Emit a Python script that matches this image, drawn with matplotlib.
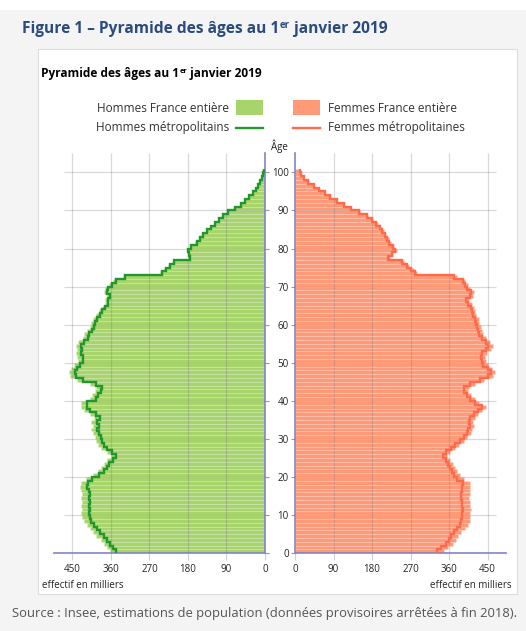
import numpy as np
import matplotlib
matplotlib.use("Agg")
import matplotlib.pyplot as plt
from matplotlib.patches import Rectangle
from matplotlib.lines import Line2D

plt.rcParams["font.family"] = ["Open Sans", "DejaVu Sans"]

# ---- données (effectifs en milliers, âges 0 à 100) ----
ages = np.arange(0, 101)

hommes_france = [
    363, 370, 377, 384, 394, 401, 410, 417, 424, 427,
    429, 427, 430, 428, 429, 428, 429, 432, 430, 419,
    402, 390, 383, 377, 368, 360, 370, 383, 390, 395,
    398, 401, 406, 403, 407, 400, 410, 424, 431, 430,
    409, 404, 397, 394, 409, 440, 456, 458, 454, 446,
    438, 439, 442, 440, 442, 436, 425, 422, 416, 410,
    407, 402, 395, 389, 382, 375, 374, 369, 377, 373,
    364, 354, 332, 246, 237, 227, 216, 180, 181, 183,
    175, 163, 155, 147, 138, 128, 119, 109, 99, 88,
    71, 58, 47, 38, 29, 22, 16, 11, 7, 5,
    2,
]
hommes_metro = [
    347, 354, 361, 368, 377, 385, 393, 400, 406, 409,
    411, 409, 412, 410, 411, 410, 412, 415, 414, 404,
    388, 377, 370, 364, 355, 347, 357, 370, 377, 382,
    384, 387, 392, 389, 393, 386, 396, 410, 417, 416,
    395, 390, 383, 380, 395, 425, 441, 443, 440, 432,
    425, 426, 429, 428, 430, 424, 414, 411, 405, 400,
    397, 392, 386, 380, 374, 367, 366, 362, 370, 366,
    358, 348, 326, 241, 232, 222, 212, 176, 177, 179,
    172, 160, 152, 144, 135, 126, 117, 107, 97, 86,
    70, 57, 46, 37, 28, 21, 16, 11, 7, 4.5,
    2,
]
femmes_france = [
    347, 358, 369, 377, 382, 389, 397, 404, 408, 409,
    410, 412, 410, 409, 407, 408, 408, 408, 409, 394,
    386, 378, 373, 368, 361, 355, 362, 373, 384, 394,
    403, 411, 414, 418, 416, 420, 428, 438, 446, 430,
    420, 411, 405, 406, 420, 442, 462, 468, 460, 450,
    446, 444, 448, 457, 462, 456, 446, 439, 437, 434,
    431, 429, 424, 421, 419, 413, 407, 415, 419, 410,
    404, 398, 378, 285, 277, 267, 255, 222, 230, 238,
    232, 224, 219, 213, 207, 201, 193, 183, 171, 152,
    132, 116, 99, 83, 71, 57, 45, 32, 22, 15,
    12,
]
femmes_metro = [
    331, 342, 352, 360, 365, 372, 379, 386, 389, 390,
    391, 393, 391, 390, 388, 389, 390, 390, 392, 378,
    372, 366, 362, 358, 352, 346, 353, 364, 375, 385,
    394, 402, 404, 408, 406, 410, 418, 428, 436, 420,
    410, 401, 395, 396, 410, 432, 452, 458, 450, 440,
    436, 434, 438, 447, 452, 446, 436, 430, 428, 425,
    422, 420, 416, 413, 411, 405, 400, 408, 412, 403,
    398, 392, 372, 280, 272, 262, 250, 218, 226, 234,
    228, 220, 216, 210, 204, 198, 190, 180, 168, 150,
    130, 114, 97, 82, 70, 56, 44, 31, 21, 15,
    12,
]

graduations_x = [0, 90, 180, 270, 360, 450]
graduations_age = list(range(0, 101, 10))

# ---- couleurs ----
VERT_BARRE = "#a8d46c"
VERT_LIGNE = "#22962f"
ROSE_BARRE = "#ff9a78"
ROSE_LIGNE = "#ff6a4c"
VIOLET = "#8383c9"
BLEU_TITRE = "#2b4b7f"

W, H = 526, 631
fig = plt.figure(figsize=(W / 100, H / 100), dpi=100)
fig.patch.set_facecolor("#f4f4f4")


def fx(px):
    return px / W


def fy(py):
    # py compté depuis le haut de l'image
    return 1 - py / H


# bandeau blanc en haut + cadre blanc du graphique
fig.add_artist(Rectangle((0, fy(10)), 1, 10 / H, transform=fig.transFigure,
                         facecolor="white", edgecolor="none", zorder=0))
fig.add_artist(Rectangle((fx(38), fy(594)), (517 - 38) / W, (594 - 49) / H,
                         transform=fig.transFigure, facecolor="white",
                         edgecolor="#dddddd", lw=0.8, zorder=0))

ax_h = fig.add_axes([fx(54), fy(553.3), (265 - 54) / W, 400 / H])
ax_f = fig.add_axes([fx(295), fy(553.3), (506 - 295) / W, 400 / H])

for ax, france, metro, c_barre, c_ligne in [
    (ax_h, hommes_france, hommes_metro, VERT_BARRE, VERT_LIGNE),
    (ax_f, femmes_france, femmes_metro, ROSE_BARRE, ROSE_LIGNE),
]:
    ax.set_facecolor("none")
    ax.barh(ages, france, height=1, align="edge", color=c_barre,
            edgecolor=(1, 1, 1, 0.22), linewidth=0.4, zorder=2)
    ax.stairs(metro, np.arange(0, 102), orientation="horizontal", baseline=None,
              color=c_ligne, lw=1.7, zorder=4)
    # quadrillage
    ax.vlines(graduations_x[1:], 0, 105, color="#777777", alpha=0.28, lw=0.9, zorder=3)
    ax.hlines(graduations_age[1:], 0, 470, color="#777777", alpha=0.28, lw=0.9, zorder=3)
    ax.set_ylim(0, 105)
    ax.set_xticks(graduations_x)
    ax.set_xticklabels([str(v) for v in graduations_x])
    ax.tick_params(axis="x", length=5, color="#d0d0d0", labelsize=7, pad=3,
                   labelcolor="#222222")
    ax.set_yticks(graduations_age)
    ax.spines["top"].set_visible(False)
    ax.spines["bottom"].set_color(VIOLET)
    ax.spines["bottom"].set_linewidth(1.2)

ax_h.set_xlim(493, 0)
ax_f.set_xlim(0, 493)

ax_h.spines["left"].set_visible(False)
ax_h.spines["right"].set_color(VIOLET)
ax_h.spines["right"].set_linewidth(1.2)
ax_h.yaxis.tick_right()
ax_h.tick_params(axis="y", length=3, color="#999999", labelright=False)

ax_f.spines["right"].set_visible(False)
ax_f.spines["left"].set_color(VIOLET)
ax_f.spines["left"].set_linewidth(1.2)
ax_f.tick_params(axis="y", length=3, color="#999999", labelsize=7, pad=1.5,
                 labelcolor="#222222")

fig.text(fx(288), fy(146), "Âge", ha="right", va="center", fontsize=7, color="#222222")
fig.text(fx(42), fy(585), "effectif en milliers", ha="left", va="center",
         fontsize=7, color="#222222")
fig.text(fx(512), fy(585), "effectif en milliers", ha="right", va="center",
         fontsize=7, color="#222222")

# ---- légende ----
fig.text(fx(229), fy(108), "Hommes France entière", ha="right", va="center",
         fontsize=8.5, color="#333333")
fig.text(fx(229), fy(127), "Hommes métropolitains", ha="right", va="center",
         fontsize=8.5, color="#333333")
fig.text(fx(328), fy(108), "Femmes France entière", ha="left", va="center",
         fontsize=8.5, color="#333333")
fig.text(fx(328), fy(127), "Femmes métropolitaines", ha="left", va="center",
         fontsize=8.5, color="#333333")
fig.add_artist(Rectangle((fx(236), fy(115)), 27 / W, 15 / H, transform=fig.transFigure,
                         facecolor=VERT_BARRE, edgecolor="none"))
fig.add_artist(Rectangle((fx(293), fy(115)), 27 / W, 15 / H, transform=fig.transFigure,
                         facecolor=ROSE_BARRE, edgecolor="none"))
fig.add_artist(Line2D([fx(236), fx(263)], [fy(128), fy(128)], transform=fig.transFigure,
                      color=VERT_LIGNE, lw=1.7))
fig.add_artist(Line2D([fx(293), fx(320)], [fy(128), fy(128)], transform=fig.transFigure,
                      color=ROSE_LIGNE, lw=1.7))


# ---- titres avec exposant "er" ----
def titre_exposant(x, y, avant, apres, taille, **kw):
    rend = fig.canvas.get_renderer()
    t1 = fig.text(x, y, avant, fontsize=taille, va="baseline", **kw)
    x2 = t1.get_window_extent(rend).x1 / W
    t2 = fig.text(x2 + 0.5 / W, y + taille * 0.45 / H, "er", fontsize=taille * 0.62,
                  va="baseline", **kw)
    x3 = t2.get_window_extent(rend).x1 / W
    fig.text(x3, y, apres, fontsize=taille, va="baseline", **kw)


titre_exposant(fx(22), fy(32.7), "Figure 1 – Pyramide des âges au 1", " janvier 2019",
               11.2, color=BLEU_TITRE, fontweight="bold")
titre_exposant(fx(41), fy(77.3), "Pyramide des âges au 1", " janvier 2019",
               8.6, color="black", fontweight="bold")

fig.text(fx(12), fy(613), "Source : Insee, estimations de population "
         "(données provisoires arrêtées à fin 2018).",
         ha="left", va="center", fontsize=9.4, color="#555555")

fig.savefig("out.png", dpi=100, facecolor=fig.get_facecolor())
